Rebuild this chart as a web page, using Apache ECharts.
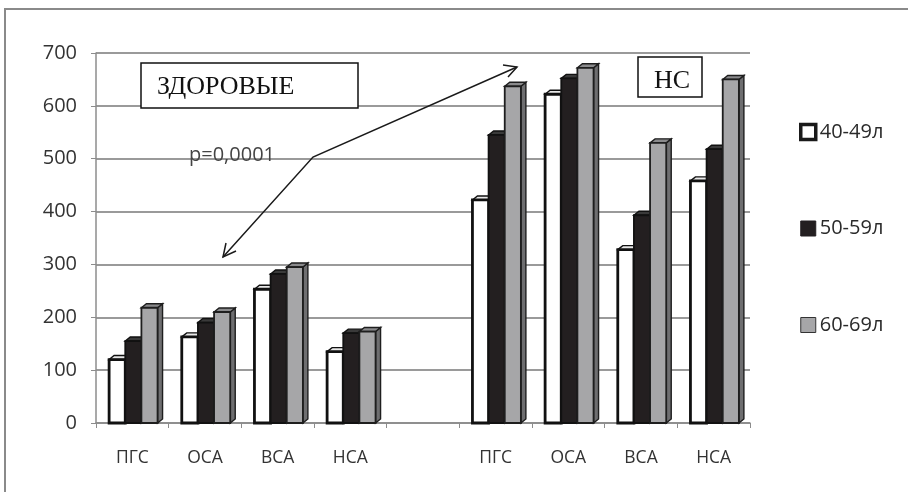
<!DOCTYPE html>
<html><head><meta charset="utf-8">
<script src="https://cdn.jsdelivr.net/npm/echarts@6/dist/echarts.min.js"></script>
<style>html,body{margin:0;padding:0;background:#fff}#c{width:908px;height:492px}</style>
</head><body><div id="c"></div>
<script>
const categories = ['ПГС','ОСА','ВСА','НСА','','ПГС','ОСА','ВСА','НСА'];
const seriesNames = ['40-49л','50-59л','60-69л'];
const s40 = [120,163,253,135,null,422,622,328,458];
const s50 = [155,190,282,170,null,545,652,393,518];
const s60 = [218,210,295,173,null,637,672,530,650];
const yTicks = [0,100,200,300,400,500,600,700];

const styles = [
  {front:'#ffffff', top:'#e8e8e8', side:'#cfcfcf', stroke:'#111111', lw:2.8},
  {front:'#231f20', top:'#3a3a3a', side:'#111111', stroke:'#111111', lw:1.8},
  {front:'#a6a6a8', top:'#8a8a8c', side:'#6e6e70', stroke:'#1e1e1e', lw:1.8}
];

function makeRender(si){
  return function(params, api){
    const v = api.value(1);
    if (v == null || isNaN(v)) return;
    const c = api.coord([api.value(0), v]);
    const b = api.coord([api.value(0), 0]);
    const slot = api.size([1,0])[0];
    const w = slot/4.5;
    const d = 5, dy = 4;
    const x = c[0] - 1.5*w + 1 + si*w;
    const yT = c[1], y0 = b[1];
    const st = styles[si];
    return {type:'group', children:[
      {type:'polygon', shape:{points:[[x+w,yT],[x+w+d,yT-dy],[x+w+d,y0-dy],[x+w,y0]]},
        style:{fill:st.side, stroke:st.stroke, lineWidth:1.4}},
      {type:'polygon', shape:{points:[[x,yT],[x+d,yT-dy],[x+w+d,yT-dy],[x+w,yT]]},
        style:{fill:st.top, stroke:st.stroke, lineWidth:1.4}},
      {type:'rect', shape:{x:x, y:yT, width:w, height:y0-yT},
        style:{fill:st.front, stroke:st.stroke, lineWidth:st.lw}}
    ]};
  };
}

const data = [s40, s50, s60];
const chart = echarts.init(document.getElementById('c'), null, {renderer:'canvas'});
const legendColors = ['#ffffff','#231f20','#a6a6a8'];
const legendBorders = ['#1a1a1a','#231f20','#333333'];

chart.setOption({
  animation:false,
  backgroundColor:'#fff',
  grid:{left:96, right:158, top:53, bottom:69},
  legend:{
    orient:'vertical', left:794, top:117, itemGap:76.5,
    itemWidth:15, itemHeight:15, icon:'rect',
    textStyle:{fontFamily:'Open Sans', fontSize:20, lineHeight:20, color:'#2a2a2a', padding:[0,0,0,-1]},
    data: seriesNames.map((n,i)=>({name:n, itemStyle:{color:legendColors[i], borderColor:legendBorders[i], borderWidth: i===0?3.5:1}}))
  },
  xAxis:{
    type:'category', data:categories,
    axisLine:{show:true, lineStyle:{color:'#8c8c8c', width:1.5}},
    axisTick:{show:true, length:5, lineStyle:{color:'#8c8c8c'}},
    axisLabel:{margin:26, fontFamily:'Open Sans', fontSize:17.5, color:'#333'}
  },
  yAxis:{
    type:'value', min:0, max:700, interval:100,
    axisLine:{show:true, lineStyle:{color:'#8c8c8c', width:1.5}},
    axisTick:{show:true, length:5, lineStyle:{color:'#8c8c8c'}},
    axisLabel:{margin:19, fontFamily:'Open Sans', fontSize:20, color:'#333',
      formatter:(v)=> yTicks.includes(v) ? String(v) : ''},
    splitLine:{show:true, lineStyle:{color:'#9a9a9a', width:1.8}}
  },
  series: data.map((arr,si)=>({
    name: seriesNames[si], type:'custom',
    itemStyle:{color:legendColors[si], borderColor:legendBorders[si]},
    renderItem: makeRender(si),
    encode:{x:0, y:1},
    data: arr.map((v,i)=>[i, v])
  })),
  graphic:[
    {type:'rect', shape:{x:5, y:9, width:1000, height:1000}, style:{fill:'none', stroke:'#8a8a8a', lineWidth:2}, z:-10},
    {type:'rect', shape:{x:141, y:63, width:217, height:45}, style:{fill:'#fff', stroke:'#111', lineWidth:1.5}, z:50},
    {type:'text', x:157, y:87, style:{text:'ЗДОРОВЫЕ', font:'26px "Liberation Serif"', fill:'#111', verticalAlign:'middle'}, z:51},
    {type:'rect', shape:{x:638, y:57, width:64, height:40}, style:{fill:'#fff', stroke:'#111', lineWidth:1.5}, z:50},
    {type:'text', x:654, y:81, style:{text:'НС', font:'26px "Liberation Serif"', fill:'#111', verticalAlign:'middle'}, z:51},
    {type:'text', x:189, y:155, style:{text:'p=0,0001', font:'20px "Open Sans"', fill:'#444', verticalAlign:'middle'}, z:51},
    {type:'polyline', shape:{points:[[223,257],[313,157],[517,67]]}, style:{stroke:'#1a1a1a', lineWidth:1.5, fill:'none'}, z:52},
    {type:'polyline', shape:{points:[[226,243],[223,257],[236,251]]}, style:{stroke:'#1a1a1a', lineWidth:1.5, fill:'none'}, z:52},
    {type:'polyline', shape:{points:[[503,65],[517,67],[508,77]]}, style:{stroke:'#1a1a1a', lineWidth:1.5, fill:'none'}, z:52}
  ]
});
</script></body></html>
